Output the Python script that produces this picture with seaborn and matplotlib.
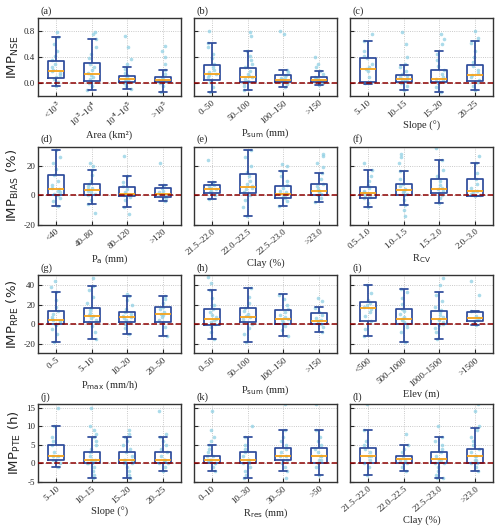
import numpy as np
import pandas as pd
import matplotlib
matplotlib.use('Agg')
import matplotlib.pyplot as plt
import seaborn as sns

# ---------------------------------------------------------------------------
# DATA: box stats are [whisker low, Q1, median, Q3, whisker high] per class,
# points are the individual catchment values
# ---------------------------------------------------------------------------

area_cats = ['<10$^3$', '10$^3$–10$^4$', '10$^4$–10$^5$', '>10$^5$']
psum_cats = ['0–50', '50–100', '100–150', '>150']
slope_cats = ['5–10', '10–15', '15–20', '20–25']
pa_cats = ['<40', '40–80', '80–120', '>120']
clay_cats = ['21.5–22.0', '22.0–22.5', '22.5–23.0', '>23.0']
rcv_cats = ['0.5–1.0', '1.0–1.5', '1.5–2.0', '2.0–3.0']
pmax_cats = ['0–5', '5–10', '10–20', '20–50']
elev_cats = ['<500', '500–1000', '1000–1500', '>1500']
rres_cats = ['0–10', '10–30', '30–50', '>50']

# (a) NSE vs area
a_stats = [[-0.05, 0.08, 0.18, 0.34, 0.71], [-0.10, 0.03, 0.14, 0.31, 0.68],
           [-0.09, 0.01, 0.06, 0.11, 0.25], [-0.13, 0.01, 0.05, 0.10, 0.20]]
a_pts = [[-0.04, 0.02, 0.06, 0.09, 0.12, 0.15, 0.18, 0.2, 0.24, 0.3, 0.35, 0.42, 0.5, 0.6, 0.71, 0.78],
         [-0.1, -0.05, 0.0, 0.03, 0.06, 0.1, 0.13, 0.15, 0.2, 0.25, 0.3, 0.38, 0.45, 0.55, 0.68, 0.75, 0.79],
         [-0.09, -0.04, 0.0, 0.02, 0.04, 0.06, 0.07, 0.09, 0.12, 0.16, 0.22, 0.3, 0.37, 0.55, 0.72],
         [-0.13, -0.05, 0.0, 0.02, 0.04, 0.05, 0.07, 0.1, 0.14, 0.2, 0.3, 0.4, 0.5, 0.57]]
# (b) NSE vs Psum
b_stats = [[-0.13, 0.04, 0.14, 0.28, 0.62], [-0.10, 0.02, 0.10, 0.23, 0.50],
           [-0.06, 0.01, 0.05, 0.12, 0.20], [-0.03, 0.01, 0.05, 0.09, 0.19]]
b_pts = [[-0.13, -0.06, 0.02, 0.05, 0.09, 0.12, 0.14, 0.17, 0.2, 0.25, 0.3, 0.38, 0.45, 0.55, 0.62, 0.8],
         [-0.1, -0.04, 0.0, 0.03, 0.06, 0.09, 0.11, 0.14, 0.18, 0.24, 0.3, 0.35, 0.42, 0.5, 0.72, 0.79],
         [-0.06, -0.02, 0.01, 0.03, 0.05, 0.06, 0.08, 0.1, 0.13, 0.17, 0.2, 0.75, 0.8],
         [-0.03, 0.0, 0.02, 0.03, 0.05, 0.06, 0.08, 0.1, 0.14, 0.19, 0.25, 0.3, 0.4]]
# (c) NSE vs slope
c_stats = [[-0.01, 0.01, 0.21, 0.39, 0.65], [-0.10, 0.02, 0.07, 0.12, 0.28],
           [-0.13, 0.015, 0.066, 0.20, 0.49], [-0.10, 0.03, 0.13, 0.28, 0.65]]
c_pts = [[0.0, 0.02, 0.1, 0.18, 0.21, 0.25, 0.3, 0.38, 0.42, 0.5, 0.65, 0.75],
         [-0.1, -0.05, 0.0, 0.02, 0.04, 0.06, 0.07, 0.09, 0.11, 0.14, 0.18, 0.25, 0.3, 0.4, 0.6, 0.78],
         [-0.13, -0.06, 0.0, 0.02, 0.05, 0.07, 0.1, 0.14, 0.2, 0.27, 0.35, 0.45, 0.6, 0.68, 0.75],
         [-0.1, -0.04, 0.02, 0.05, 0.09, 0.13, 0.16, 0.2, 0.26, 0.32, 0.4, 0.5, 0.62, 0.7, 0.8]]
# (d) BIAS vs Pa
d_stats = [[-7, 0.5, 4.1, 14, 31], [-5.9, 0.5, 3.6, 7.5, 17],
           [-7.7, -0.7, 1.1, 5.6, 12.9], [-4, -1.1, 1.1, 4.7, 7]]
d_pts = [[-7, -4, -2, 0, 1, 2, 3, 4, 5, 7, 10, 14, 18, 22, 26, 31],
         [-12, -6, -3, 0, 1, 2, 3, 4, 5, 6, 8, 10, 14, 17, 20, 22],
         [-13, -7.7, -3, -1, 0, 1, 2, 4, 6, 9, 13, 27],
         [-4, -2, -1, 0, 1, 2, 3, 5, 7, 22]]
# (e) BIAS vs clay
e_stats = [[-2.7, 1.8, 4.5, 7.2, 9], [-13.8, 1.8, 5.9, 14.2, 31],
           [-7.2, -1.6, 1.1, 6.5, 16.7], [-4.3, 0, 3, 7.7, 15.4]]
e_pts = [[-2.7, 0, 2, 3, 4.5, 5, 6, 7, 8, 9, 24],
         [-13.8, -8, -3, 0, 2, 4, 5, 6, 8, 10, 13, 16, 20, 26, 31],
         [-7.2, -4, -2, -1, 0, 1, 2, 3, 5, 7, 10, 13, 16.7, 20, 21],
         [-4.3, -2, 0, 1, 2, 3, 4, 6, 8, 11, 15, 19, 22, 27, 28]]
# (f) BIAS vs Rcv
f_stats = [[-7.7, -1.8, 1.4, 5.9, 17.2], [-6.8, 0.2, 3.6, 7.5, 16.7],
           [-5.4, 1.4, 4.1, 11.3, 24], [-0.5, -0.2, 3.2, 11.3, 22]]
f_pts = [[-7.7, -5, -2, -1, 0, 1, 2, 3, 5, 7, 10, 13, 17, 22],
         [-14, -10, -6.8, -3, 0, 1, 2, 3, 4, 6, 8, 11, 16.7, 22, 26, 28],
         [-5.4, -2, 0, 1.5, 3, 4, 5, 7, 10, 13, 17, 24, 32],
         [-0.5, 0, 1, 2, 3, 5, 8, 11, 15, 22, 27]]
# (g) RPE vs Pmax
g_stats = [[-18.7, -0.3, 3.8, 13, 33], [-15.3, 2.4, 8.2, 17, 39.5],
           [-10.5, 2, 7.1, 12.6, 28.6], [-12.2, 2, 9.9, 17.7, 28.9]]
g_pts = [[-18.7, -10, -5, -1, 0, 2, 3, 4, 5, 7, 10, 13, 18, 25, 33, 38, 44],
         [-15.3, -8, -2, 2, 4, 6, 8, 9, 11, 14, 17, 22, 28, 35, 39.5, 47],
         [-10.5, -4, 0, 2, 4, 6, 7, 8, 10, 12, 15, 20, 25, 28.6, 31],
         [-12.2, -3, 2, 4, 7, 9, 10, 12, 15, 18, 22, 26, 28.9]]
# (h) RPE vs Psum
h_stats = [[-15, -0.7, 5.4, 15.3, 35.4], [-18.7, 1.7, 7.8, 17, 36.7],
           [-11.9, 0.3, 5.4, 14, 30.6], [-8.5, 0, 3.4, 10.9, 17.7]]
h_pts = [[-15, -8, -3, 0, 2, 4, 5, 7, 9, 12, 15, 20, 27, 35, 42, 48],
         [-18.7, -10, -4, 0, 2, 5, 7, 8, 10, 13, 17, 22, 28, 36.7],
         [-11.9, -6, -2, 0, 2, 4, 5, 7, 9, 12, 15, 20, 26, 30],
         [-8.5, -3, 0, 1, 3, 4, 6, 9, 12, 17, 24, 27]]
# (i) RPE vs elevation
i_stats = [[-12.2, 3.4, 16.3, 22.7, 39.8], [-18.4, -0.3, 4.8, 15.6, 36],
           [-15, -0.3, 5.4, 13.6, 33], [-1.4, 2.7, 5.8, 12.6, 13]]
i_pts = [[-12.2, -5, 3.4, 8, 12, 16, 18, 20, 22, 25, 32, 39.8],
         [-18.4, -8, -3, 0, 2, 4, 5, 7, 10, 13, 16, 21, 27, 33, 36],
         [-15, -8, -4, -1, 0, 2, 4, 5, 7, 9, 12, 14, 18, 24, 30, 40, 47],
         [-1.4, 2.7, 4, 6, 8, 13, 30, 44]]
# (j) PTE vs slope
j_stats = [[-1, 1, 2, 5, 10], [-4, 0, 1, 3, 7], [-4, 0, 1, 3, 7], [-2, 0, 1, 3, 7]]
j_pts = [[-1, 0, 1, 1, 2, 2, 3, 5, 6, 7, 10, 15],
         [-4, -3, -2, -1, 0, 0, 0, 1, 1, 1, 2, 3, 4, 5, 6, 7, 8, 9, 10, 15],
         [-4, -3, -2, -1, 0, 0, 1, 1, 1, 2, 3, 4, 5, 6, 7, 8, 9],
         [-2, -1, 0, 0, 1, 1, 1, 2, 3, 4, 5, 6, 7, 8, 14]]
# (k) PTE vs Rres
k_stats = [[-2, 0, 1, 2, 5], [-4, 0, 1, 3, 7], [-2, 1, 2, 4.25, 9], [-3, 0, 2, 4.25, 9]]
k_pts = [[-2, -1, 0, 0, 1, 1, 1, 2, 2, 3, 4, 5, 6, 7, 9, 14],
         [-4, -3, -2, -1, 0, 0, 1, 1, 2, 3, 4, 5, 7, 10],
         [-4, -2, -1, 0, 1, 1, 2, 2, 3, 4, 5, 6, 7, 9, 16],
         [-3, -1, 0, 1, 1, 2, 2, 3, 4, 5, 6, 7, 9, 16]]
# (l) PTE vs clay
l_stats = [[-3, 0.2, 2, 4.2, 9], [-2, 0, 1.2, 2, 5], [-4, 0, 1.2, 3.2, 7], [-2, 0, 2, 4, 9.6]]
l_pts = [[-3, -1, 0, 1, 2, 2, 3, 4, 5, 6, 9, 16],
         [-2, -1, 0, 0, 1, 1, 2, 3, 4, 5, 8],
         [-4, -4, -3, -2, -1, 0, 0, 1, 1, 2, 3, 4, 5, 6, 7, 10],
         [-2, -1, 0, 0, 1, 1, 2, 2, 3, 4, 5, 6, 7, 9, 10, 14, 16]]

# panels in reading order: (stats, points, categories, x label)
panels = [
    (a_stats, a_pts, area_cats, 'Area (km²)'),
    (b_stats, b_pts, psum_cats, 'P$_{\\rm sum}$ (mm)'),
    (c_stats, c_pts, slope_cats, 'Slope (°)'),
    (d_stats, d_pts, pa_cats, 'P$_{\\rm a}$ (mm)'),
    (e_stats, e_pts, clay_cats, 'Clay (%)'),
    (f_stats, f_pts, rcv_cats, 'R$_{\\rm CV}$'),
    (g_stats, g_pts, pmax_cats, 'P$_{\\rm max}$ (mm/h)'),
    (h_stats, h_pts, psum_cats, 'P$_{\\rm sum}$ (mm)'),
    (i_stats, i_pts, elev_cats, 'Elev (m)'),
    (j_stats, j_pts, slope_cats, 'Slope (°)'),
    (k_stats, k_pts, rres_cats, 'R$_{\\rm res}$ (mm)'),
    (l_stats, l_pts, clay_cats, 'Clay (%)'),
]
row_ylabels = ['IMP$_{\\rm NSE}$', 'IMP$_{\\rm BIAS}$ (%)', 'IMP$_{\\rm RPE}$ (%)', 'IMP$_{\\rm PTE}$ (h)']
row_ylims = [(-0.2, 1.0), (-20, 33), (-30, 50), (-5, 16)]
row_yticks = [[0.0, 0.4, 0.8], [-20, 0, 20], [-20, 0, 20, 40], [-5, 0, 5, 10, 15]]
row_yfmt = ['{:.1f}', '{:g}', '{:g}', '{:g}']
letters = 'abcdefghijkl'

BOX_COLOR = '#2d4b9b'
MED_COLOR = '#f5a31a'
PT_COLOR = '#8fcfe3'
ZERO_COLOR = '#8b0000'


def long_frame(groups, cats):
    # turns a list of value lists into a (cat, val) table for seaborn
    rows = []
    for cat, vals in zip(cats, groups):
        for v in vals:
            rows.append((cat, v))
    return pd.DataFrame(rows, columns=['cat', 'val'])


sns.set_style('ticks')
plt.rcParams['font.family'] = ['Liberation Serif', 'DejaVu Serif']
plt.rcParams['mathtext.fontset'] = 'dejavusans'

np.random.seed(3)
fig, axes = plt.subplots(4, 3, figsize=(5.0, 5.32), dpi=100, sharey='row')
fig.subplots_adjust(left=0.076, right=0.986, top=0.966, bottom=0.094, wspace=0.09, hspace=0.65)

for idx, (stats, pts, cats, xlab) in enumerate(panels):
    r, c = divmod(idx, 3)
    ax = axes[r, c]

    pts_df = long_frame(pts, cats)
    box_df = long_frame(stats, cats)

    sns.stripplot(data=pts_df, x='cat', y='val', order=cats, ax=ax, color=PT_COLOR,
                  alpha=0.75, size=2.6, jitter=0.13, zorder=1)
    sns.boxplot(data=box_df, x='cat', y='val', order=cats, ax=ax, whis=(0, 100),
                width=0.45, fill=False, color=BOX_COLOR, linewidth=1.25,
                showfliers=False, medianprops=dict(color=MED_COLOR, linewidth=1.3))

    ax.axhline(0, color=ZERO_COLOR, linestyle='--', linewidth=1.1, zorder=3)
    ax.set_ylim(row_ylims[r])
    ax.set_yticks(row_yticks[r])
    ax.set_yticklabels([row_yfmt[r].format(t) for t in row_yticks[r]])
    ax.grid(True, linestyle=':', color='#b8b8b8', linewidth=0.6)
    ax.set_axisbelow(True)

    ax.tick_params(direction='in', length=3, width=0.8, labelsize=6.5, pad=2)
    plt.setp(ax.get_xticklabels(), rotation=40, ha='right', rotation_mode='anchor')
    for sp in ax.spines.values():
        sp.set_linewidth(1.0)
        sp.set_color('#333333')

    ax.set_xlabel(xlab, fontsize=7.5, labelpad=1)
    if c == 0:
        ax.set_ylabel(row_ylabels[r], fontsize=9.5, family='DejaVu Sans', labelpad=2)
    else:
        ax.set_ylabel('')
        ax.tick_params(labelleft=False)
    ax.text(0.02, 1.03, '(' + letters[idx] + ')', transform=ax.transAxes,
            fontsize=7.5, ha='left', va='bottom')

fig.savefig('out.png', dpi=100)
